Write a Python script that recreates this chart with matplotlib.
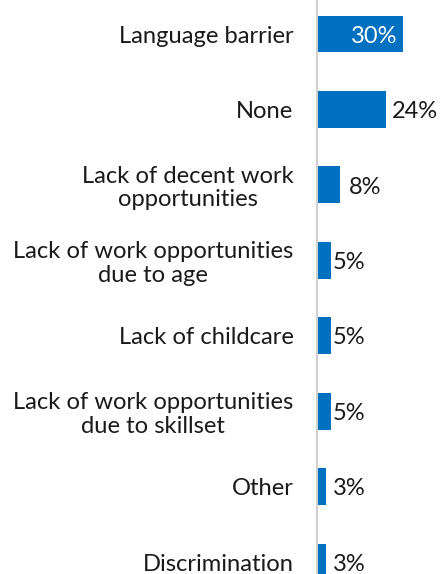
import matplotlib.pyplot as plt

plt.rcParams['font.family'] = ['Lato', 'DejaVu Sans']

categories = ['Language barrier', 'None', 'Lack of decent work\nopportunities',
              'Lack of work opportunities\ndue to age', 'Lack of childcare',
              'Lack of work opportunities\ndue to skillset', 'Other', 'Discrimination']
values = [30, 24, 8, 5, 5, 5, 3, 3]
labels = ['30%', '24%', '8%', '5%', '5%', '5%', '3%', '3%']

fig = plt.figure(figsize=(4.4, 5.74), dpi=100)
ax = fig.add_axes([317 / 440, 0, 1 - 317 / 440, 1])

pos = list(range(len(values)))
ax.barh(pos, values, height=0.49, color='#0070c0')

for p, v, lab in zip(pos, values, labels):
    if v >= 28:
        ax.text(v - 2, p + 0.03, lab, ha='right', va='center', color='white', fontsize=17)
    else:
        # short bars get their label at a fixed spot just right of the axis
        x = 5.6 if v <= 5 else v + (3.2 if v < 10 else 2.1)
        ax.text(x, p + 0.03, lab, ha='left', va='center',
                color='#1a1a1a', fontsize=17)

ax.set_yticks(pos)
ax.set_yticklabels(categories, fontsize=17.1, color='#1a1a1a',
                   multialignment='center', linespacing=1.15)
ax.tick_params(axis='y', length=0, pad=17)
ax.set_xticks([])
ax.set_xlim(0, 42.9)
ax.set_ylim(7.159, -0.451)

for s in ['top', 'right', 'bottom']:
    ax.spines[s].set_visible(False)
ax.spines['left'].set_color('#d0d0d0')
ax.spines['left'].set_linewidth(1.5)

fig.savefig('out.png', dpi=100)
